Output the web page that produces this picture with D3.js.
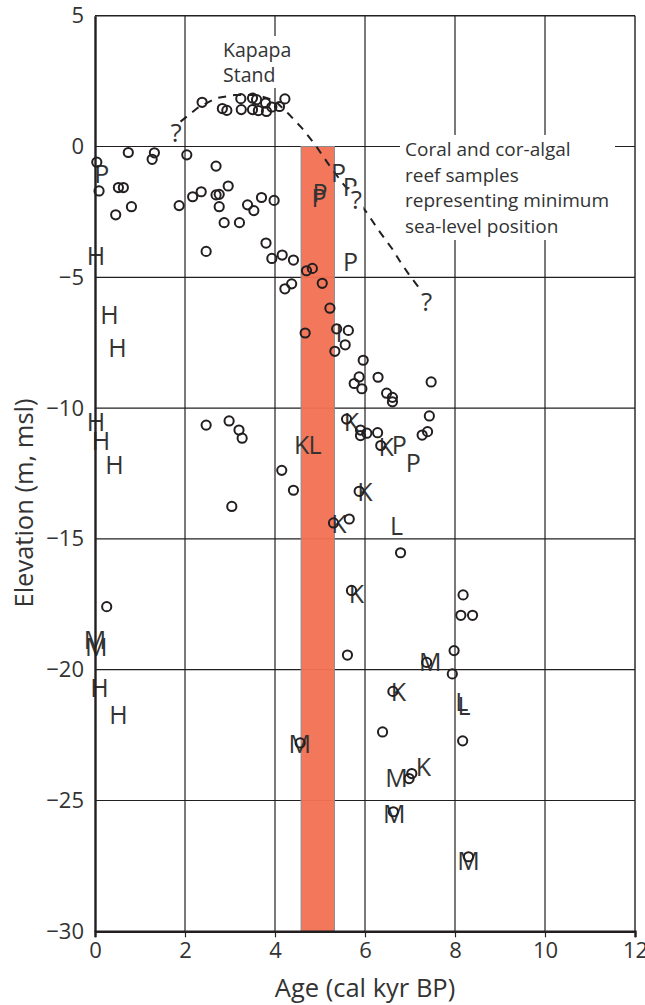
<!DOCTYPE html>
<html>
<head>
<meta charset="utf-8">
<script src="https://cdn.jsdelivr.net/npm/d3@7"></script>
<style>
  html, body { margin: 0; padding: 0; background: #fff; }
  svg { display: block; font-family: "Open Sans", "Noto Sans", sans-serif; }
</style>
</head>
<body>
<svg id="chart" width="645" height="1005"></svg>
<script>
// ---------- data ----------
const ageTicks = [0, 2, 4, 6, 8, 10, 12];
const elevTicks = [5, 0, -5, -10, -15, -20, -25, -30];

// coral and cor-algal reef samples (age kyr, elevation m)
const coralSamples = [
  [2.38,1.69],[2.83,1.45],[2.93,1.38],[3.24,1.83],[3.25,1.41],[3.50,1.85],[3.50,1.41],
  [3.59,1.79],[3.63,1.37],[3.79,1.66],[3.81,1.34],[3.93,1.51],[4.10,1.53],[4.22,1.82],
  [0.04,-0.60],[0.09,-1.70],[0.46,-2.61],[0.52,-1.57],[0.63,-1.57],[0.81,-2.30],[0.74,-0.23],
  [1.27,-0.49],[1.32,-0.24],[1.87,-2.26],[2.04,-0.32],[2.17,-1.92],[2.36,-1.73],[2.69,-0.75],
  [2.69,-1.85],[2.76,-1.83],[2.96,-1.51],[2.76,-2.30],[2.87,-2.91],[3.21,-2.91],[3.39,-2.23],
  [3.53,-2.45],[3.70,-1.95],[3.98,-2.06],
  [2.47,-4.01],[3.80,-3.69],[3.93,-4.28],[4.16,-4.15],[4.41,-4.34],[4.70,-4.75],[4.83,-4.66],
  [5.05,-5.23],[4.22,-5.44],[4.37,-5.25],[5.22,-6.18],[4.67,-7.13],[5.37,-6.97],[5.63,-7.03],
  [5.56,-7.58],[5.33,-7.83],[5.96,-8.17],[5.87,-8.81],[5.76,-9.06],[5.93,-9.26],[6.29,-8.82],
  [6.48,-9.43],[6.61,-9.59],[6.61,-9.76],[7.47,-9.00],[7.43,-10.30],[7.39,-10.90],[7.27,-11.03],
  [5.59,-10.42],[5.90,-10.84],[5.90,-11.05],[6.04,-10.96],[6.28,-10.94],[6.35,-11.43],
  [2.47,-10.65],[2.98,-10.49],[3.20,-10.84],[3.27,-11.15],[4.15,-12.38],[4.41,-13.14],[3.04,-13.76],
  [5.87,-13.18],[5.30,-14.39],[5.65,-14.24],[6.79,-15.53],[5.70,-16.97],[8.18,-17.14],
  [8.13,-17.92],[8.39,-17.92],[0.26,-17.59],
  [5.61,-19.44],[7.37,-19.72],[7.98,-19.27],[7.94,-20.16],[6.62,-20.83],[6.39,-22.38],
  [8.17,-22.72],[4.56,-22.80],[6.98,-24.16],[7.04,-23.97],[6.63,-25.43],[8.30,-27.15]
];

// lettered samples
const samplesH = [[0.02,-4.18],[0.32,-6.43],[0.50,-7.70],[0.02,-10.54],[0.13,-11.26],[0.43,-12.17],[0.10,-20.70],[0.52,-21.75]];
const samplesP = [[0.15,-1.07],[5.41,-1.00],[5.67,-1.56],[5.00,-1.76],[4.98,-1.95],[5.68,-4.43],[6.76,-11.41],[7.07,-12.10]];
const samplesK = [[5.70,-10.52],[4.59,-11.41],[6.47,-11.47],[6.00,-13.22],[5.42,-14.42],[5.81,-17.12],[6.74,-20.85],[7.30,-23.72]];
const samplesL = [[4.89,-11.41],[6.70,-14.52],[8.15,-21.25],[8.20,-21.40]];
const samplesM = [[0.00,-18.85],[0.03,-19.12],[4.55,-22.83],[7.45,-19.70],[6.70,-24.15],[6.65,-25.50],[8.30,-27.30]];
const samplesI = [[5.42,-7.12]];

// Kapapa stand sea-level curve (dashed)
const seaLevelCurve = [
  [1.90,0.95],[2.30,1.50],[2.70,1.85],[3.10,1.97],[3.60,1.97],[4.00,1.75],[4.30,1.25],
  [4.60,0.70],[4.90,0.05],[5.20,-0.70],[5.50,-1.40],[5.80,-2.00],[6.05,-2.55],[6.30,-3.20],
  [6.60,-3.90],[6.80,-4.45],[7.00,-4.95],[7.20,-5.40]
];
const questionMarks = [[1.80,0.53],[5.81,-2.02],[7.37,-5.92]];

// highlighted interval
const bandAge = [4.58, 5.32];
const bandElev = [0, -30];

const kapapaLabel = ["Kapapa", "Stand"];
const noteLabel = ["Coral and cor-algal", "reef samples", "representing minimum", "sea-level position"];

// ---------- drawing ----------
const svg = d3.select("#chart");
const W = 645, H = 1005;
const margin = {left: 95, right: 10, top: 15.7, bottom: 73.7};
const x = d3.scaleLinear().domain([0, 12]).range([margin.left, W - margin.right]);
const y = d3.scaleLinear().domain([5, -30]).range([margin.top, H - margin.bottom]);
const ink = "#231f20";

// gridlines
const grid = svg.append("g");
grid.selectAll("line.v").data(ageTicks.filter(d => d > 0 && d < 12)).join("line")
  .attr("x1", d => x(d)).attr("x2", d => x(d)).attr("y1", y(5)).attr("y2", y(-30))
  .attr("stroke", ink).attr("stroke-width", 1.2);
grid.selectAll("line.h").data(elevTicks.filter(d => d < 5 && d > -30)).join("line")
  .attr("x1", x(0)).attr("x2", x(12)).attr("y1", d => y(d)).attr("y2", d => y(d))
  .attr("stroke", ink).attr("stroke-width", 1.2);

// band
svg.append("rect")
  .attr("x", x(bandAge[0])).attr("width", x(bandAge[1]) - x(bandAge[0]))
  .attr("y", y(bandElev[0])).attr("height", y(bandElev[1]) - y(bandElev[0]))
  .attr("fill", "#f27153").attr("fill-opacity", 0.96)
  .attr("stroke", "#8a8a8a").attr("stroke-width", 1);

// frame
svg.append("line").attr("x1", x(0)).attr("x2", x(12)).attr("y1", y(5)).attr("y2", y(5)).attr("stroke", ink).attr("stroke-width", 1.4);
svg.append("line").attr("x1", x(12)).attr("x2", x(12)).attr("y1", y(5)).attr("y2", y(-30)).attr("stroke", ink).attr("stroke-width", 1.4);

// dashed curve
const line = d3.line().x(d => x(d[0])).y(d => y(d[1]));
svg.append("path").datum(seaLevelCurve).attr("d", line)
  .attr("fill", "none").attr("stroke", ink).attr("stroke-width", 2)
  .attr("stroke-dasharray", "8,7");

// letters
const letterGroups = [["H", samplesH], ["P", samplesP], ["K", samplesK], ["L", samplesL], ["M", samplesM], ["I", samplesI]];
const lg = svg.append("g").attr("fill", "#333").attr("font-size", 25);
letterGroups.forEach(([ch, arr]) => {
  lg.selectAll(null).data(arr).join("text")
    .attr("x", d => x(d[0])).attr("y", d => y(d[1]))
    .attr("dy", "0.36em").attr("text-anchor", "middle").text(ch);
});

// circles
svg.append("g").selectAll("circle").data(coralSamples).join("circle")
  .attr("cx", d => x(d[0])).attr("cy", d => y(d[1])).attr("r", 4.6)
  .attr("fill", "none").attr("stroke", ink).attr("stroke-width", 2);

// question marks with white background
const qg = svg.append("g");
questionMarks.forEach((d, i) => {
  if (i > 0) {
    qg.append("rect").attr("x", x(d[0]) - 7).attr("y", y(d[1]) - 13).attr("width", 14).attr("height", 26).attr("fill", "#fff");
  }
  qg.append("text").attr("x", x(d[0])).attr("y", y(d[1])).attr("dy", "0.36em")
    .attr("text-anchor", "middle").attr("font-size", 26).attr("fill", "#333").text("?");
});

// Kapapa Stand label
svg.append("rect").attr("x", 218).attr("y", 36).attr("width", 80).attr("height", 52).attr("fill", "#fff");
svg.append("g").selectAll("text").data(kapapaLabel).join("text")
  .attr("x", 223).attr("y", (d, i) => 57 + i * 24.5)
  .attr("font-size", 19.5).attr("fill", "#333").text(d => d);

// note label
svg.append("rect").attr("x", 400).attr("y", 135).attr("width", 215).attr("height", 105).attr("fill", "#fff");
svg.append("g").selectAll("text").data(noteLabel).join("text")
  .attr("x", 405).attr("y", (d, i) => 156 + i * 25.5)
  .attr("font-size", 19).attr("fill", "#333").text(d => d);

// axes
const xAxis = d3.axisBottom(x).tickValues(ageTicks).tickSize(6).tickPadding(5).tickFormat(d3.format("d"));
const gx = svg.append("g").attr("transform", `translate(0,${y(-30)})`).call(xAxis);
gx.select(".domain").attr("stroke", ink).attr("stroke-width", 2.4);
gx.selectAll(".tick line").attr("stroke", ink).attr("stroke-width", 1.2);
gx.selectAll(".tick text").attr("font-size", 22).attr("fill", "#333").attr("font-family", "Open Sans, sans-serif");

const yAxis = d3.axisLeft(y).tickValues(elevTicks).tickSize(0).tickPadding(11).tickFormat(d3.format("d"));
const gy = svg.append("g").attr("transform", `translate(${x(0)},0)`).call(yAxis);
gy.select(".domain").attr("stroke", ink).attr("stroke-width", 2.4);
gy.selectAll(".tick text").attr("font-size", 22).attr("fill", "#333").attr("font-family", "Open Sans, sans-serif");

// axis titles
svg.append("text").attr("x", 365).attr("y", 997).attr("text-anchor", "middle")
  .attr("font-size", 25.5).attr("fill", "#333").text("Age (cal kyr BP)");
svg.append("text").attr("transform", "translate(33,503) rotate(-90)").attr("text-anchor", "middle")
  .attr("font-size", 25.5).attr("fill", "#333").text("Elevation (m, msl)");
</script>
</body>
</html>
